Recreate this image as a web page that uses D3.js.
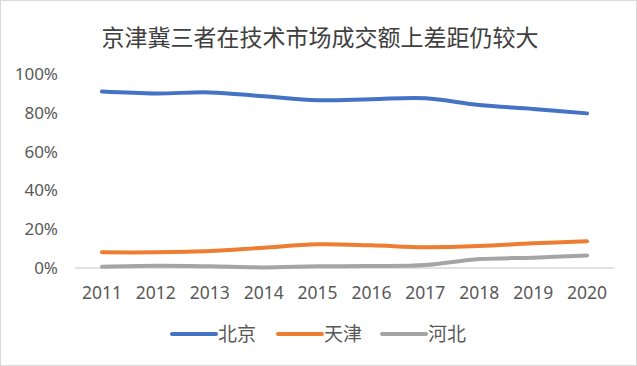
<!DOCTYPE html>
<html><head><meta charset="utf-8">
<script src="https://cdn.jsdelivr.net/npm/d3@7"></script>
<style>body{margin:0;background:#fff}svg{display:block}</style>
</head><body>
<script>
const years = ["2011","2012","2013","2014","2015","2016","2017","2018","2019","2020"];
const beijing = [91, 90, 90.5, 88.5, 86.5, 87, 87.5, 84, 82, 79.7];
const tianjin = [8.1, 8.1, 8.7, 10.5, 12.2, 11.7, 10.7, 11.3, 12.7, 13.8];
const hebei = [0.7, 1.2, 0.9, 0.3, 0.9, 1.0, 1.5, 4.6, 5.3, 6.5];
const seriesNames = ["北京","天津","河北"];
const colors = ["#4472C4","#ED7D31","#A5A5A5"];
const yTicks = [0,20,40,60,80,100];
const title = "京津冀三者在技术市场成交额上差距仍较大";

const W = 637, H = 366;
const svg = d3.select("body").append("svg").attr("width", W).attr("height", H);
svg.append("rect").attr("x",0.5).attr("y",0.5).attr("width",W-1).attr("height",H-1)
  .attr("fill","#fff").attr("stroke","#d9d9d9");

const font = "'Noto Sans CJK SC','Noto Sans',sans-serif";
svg.append("text").attr("x", 320).attr("y", 46).attr("text-anchor","middle")
  .attr("font-family", font).attr("font-size", 23).attr("fill","#404040").text(title);

const x = d3.scaleBand().domain(years).range([75, 614]);
const y = d3.scaleLinear().domain([0,100]).range([268, 74]);

svg.append("g").selectAll("text").data(yTicks).join("text")
  .attr("x", 58).attr("y", d => y(d)).attr("dy","0.35em").attr("text-anchor","end")
  .attr("font-family", "'Noto Sans',sans-serif").attr("font-size", 17).attr("fill","#595959")
  .text(d => d + "%");

svg.append("line").attr("x1", 75).attr("x2", 614).attr("y1", y(0)).attr("y2", y(0))
  .attr("stroke","#d9d9d9").attr("stroke-width",1.5);

svg.append("g").selectAll("text").data(years).join("text")
  .attr("x", d => x(d) + x.bandwidth()/2).attr("y", 299).attr("text-anchor","middle")
  .attr("font-family", "'Noto Sans',sans-serif").attr("font-size", 17.5).attr("fill","#595959")
  .text(d => d);

const line = d3.line().x((d,i) => x(years[i]) + x.bandwidth()/2).y(d => y(d))
  .curve(d3.curveCatmullRom.alpha(0.5));
const data = [beijing, tianjin, hebei];
data.forEach((s,i) => {
  svg.append("path").attr("d", line(s)).attr("fill","none")
    .attr("stroke", colors[i]).attr("stroke-width", 4).attr("stroke-linecap","round").attr("stroke-linejoin","round");
});

const legX = [172, 278, 382];
seriesNames.forEach((n,i) => {
  svg.append("line").attr("x1", legX[i]).attr("x2", legX[i]+44).attr("y1", 334).attr("y2", 334)
    .attr("stroke", colors[i]).attr("stroke-width", 4).attr("stroke-linecap","round");
  svg.append("text").attr("x", legX[i]+46).attr("y", 334).attr("dy","0.35em")
    .attr("font-family", font).attr("font-size", 19).attr("fill","#595959").text(n);
});
</script>
</body></html>
